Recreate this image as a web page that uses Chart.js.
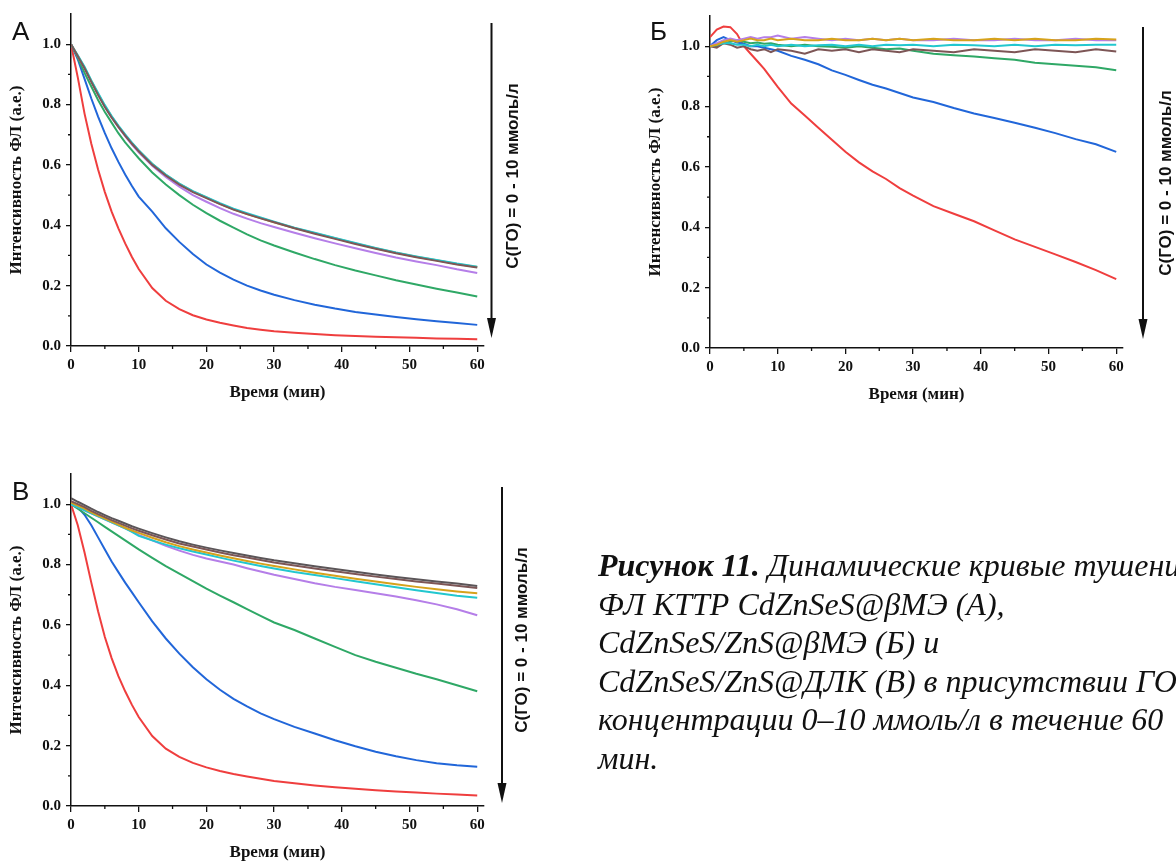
<!DOCTYPE html>
<html lang="ru">
<head>
<meta charset="utf-8">
<title>Рисунок 11</title>
<script src="https://cdn.jsdelivr.net/npm/chart.js@4.4.1/dist/chart.umd.min.js"></script>
<style>
  html, body { margin: 0; padding: 0; background: #fff; }
  body { width: 1176px; height: 863px; overflow: hidden; position: relative; }
  .panel { position: absolute; width: 500px; height: 410px; }
  .letter { position: absolute; font: 26px/26px "Liberation Sans", Arial, sans-serif; color: #111; }
  .conc { position: absolute; font: bold 17px "Liberation Sans", Arial, sans-serif; color: #111;
          white-space: nowrap; transform: translate(-50%, -50%) rotate(-90deg); }
  #caption { position: absolute; left: 598px; top: 546px; font: italic 32px/38.5px "Liberation Serif", "Times New Roman", serif;
             color: #111; white-space: nowrap; }
  #arrows { position: absolute; left: 0; top: 0; }
</style>
</head>
<body>

<div class="panel" style="left:0;top:0"><canvas id="chartA"></canvas></div>
<div class="panel" style="left:639px;top:2px"><canvas id="chartB"></canvas></div>
<div class="panel" style="left:0;top:460px"><canvas id="chartV"></canvas></div>

<div class="letter" style="left:12px;top:18px">А</div>
<div class="letter" style="left:650px;top:18px">Б</div>
<div class="letter" style="left:12px;top:478px">В</div>

<svg id="arrows" width="1176" height="863">
  <g stroke="#111" stroke-width="2" fill="#111">
    <line x1="491.5" y1="23" x2="491.5" y2="322"/>
    <polygon points="487,318 496,318 491.5,338" stroke="none"/>
    <line x1="1143" y1="27" x2="1143" y2="323"/>
    <polygon points="1138.5,319 1147.5,319 1143,339" stroke="none"/>
    <line x1="502" y1="487" x2="502" y2="787"/>
    <polygon points="497.5,783 506.5,783 502,803" stroke="none"/>
  </g>
</svg>

<div class="conc" style="left:513px;top:176px">С(ГО) = 0 - 10 ммоль/л</div>
<div class="conc" style="left:1166px;top:183px">С(ГО) = 0 - 10 ммоль/л</div>
<div class="conc" style="left:522px;top:640px">С(ГО) = 0 - 10 ммоль/л</div>

<div id="caption">
  <div><b>Рисунок 11.</b> Динамические кривые тушения</div>
  <div>ФЛ КТТР CdZnSeS@βМЭ (А),</div>
  <div>CdZnSeS/ZnS@βМЭ (Б) и</div>
  <div>CdZnSeS/ZnS@ДЛК (В) в присутствии ГО в</div>
  <div>концентрации 0–10 ммоль/л в течение 60</div>
  <div>мин.</div>
</div>

<script>
// время, мин (общая сетка для всех кривых)
const times = [0, 1, 2, 3, 4, 5, 6, 7, 8, 9, 10, 12, 14, 16, 18, 20, 22, 24, 26, 28, 30, 33, 36, 39, 42, 45, 48, 51, 54, 57, 60];

// деления осей
const xTicks = [0, 10, 20, 30, 40, 50, 60];
const xMinor = [5, 15, 25, 35, 45, 55];
const yMinor = [0.1, 0.3, 0.5, 0.7, 0.9];

// цвета кривых
const cRed = '#ef3e3e';
const cBlue = '#2166d9';
const cGreen = '#2fa866';
const cPurple = '#b57ee8';
const cGold = '#d6a21c';
const cCyan = '#22c7cf';
const cBrown = '#7d5656';
const cGray = '#5b5558';

// Панель А: CdZnSeS@βМЭ
const redA    = [1.0, 0.89, 0.77, 0.67, 0.585, 0.51, 0.445, 0.39, 0.34, 0.295, 0.255, 0.192, 0.15, 0.122, 0.102, 0.088, 0.077, 0.068, 0.06, 0.054, 0.049, 0.044, 0.04, 0.036, 0.033, 0.031, 0.029, 0.027, 0.025, 0.024, 0.022];
const blueA   = [1.0, 0.95, 0.885, 0.82, 0.76, 0.705, 0.655, 0.61, 0.568, 0.53, 0.495, 0.445, 0.39, 0.345, 0.305, 0.27, 0.243, 0.22, 0.2, 0.184, 0.17, 0.152, 0.137, 0.124, 0.113, 0.104, 0.096, 0.089, 0.082, 0.076, 0.07];
const greenA  = [1.0, 0.955, 0.905, 0.86, 0.815, 0.775, 0.74, 0.705, 0.675, 0.648, 0.622, 0.575, 0.535, 0.5, 0.468, 0.44, 0.415, 0.392, 0.37, 0.35, 0.333, 0.31, 0.288, 0.268, 0.25, 0.234, 0.218, 0.204, 0.19, 0.177, 0.164];
const purpleA = [1.0, 0.96, 0.92, 0.876, 0.833, 0.793, 0.757, 0.725, 0.695, 0.667, 0.642, 0.597, 0.56, 0.528, 0.5, 0.478, 0.457, 0.438, 0.422, 0.407, 0.394, 0.375, 0.357, 0.34, 0.324, 0.308, 0.293, 0.28, 0.268, 0.254, 0.242];
const goldA   = [1.0, 0.962, 0.922, 0.878, 0.835, 0.795, 0.76, 0.728, 0.699, 0.672, 0.647, 0.603, 0.567, 0.537, 0.512, 0.492, 0.471, 0.453, 0.437, 0.424, 0.41, 0.391, 0.374, 0.357, 0.34, 0.324, 0.309, 0.296, 0.284, 0.272, 0.262];
const cyanA   = [1.0, 0.963, 0.925, 0.88, 0.838, 0.798, 0.762, 0.73, 0.701, 0.674, 0.649, 0.604, 0.568, 0.538, 0.513, 0.493, 0.473, 0.455, 0.44, 0.426, 0.412, 0.392, 0.375, 0.358, 0.341, 0.325, 0.31, 0.297, 0.285, 0.273, 0.263];
const brownA  = [1.0, 0.96, 0.92, 0.875, 0.832, 0.792, 0.757, 0.726, 0.697, 0.67, 0.645, 0.6, 0.565, 0.535, 0.51, 0.49, 0.47, 0.452, 0.437, 0.423, 0.41, 0.39, 0.372, 0.355, 0.338, 0.322, 0.307, 0.294, 0.282, 0.27, 0.26];

// Панель Б: CdZnSeS/ZnS@βМЭ
const redB    = [1.03, 1.055, 1.065, 1.063, 1.04, 1.0, 0.975, 0.95, 0.925, 0.895, 0.865, 0.81, 0.77, 0.73, 0.69, 0.65, 0.615, 0.585, 0.56, 0.53, 0.505, 0.47, 0.445, 0.42, 0.39, 0.36, 0.335, 0.31, 0.285, 0.258, 0.228];
const blueB   = [1.0, 1.02, 1.03, 1.02, 1.012, 1.008, 1.0, 1.0, 0.995, 0.99, 0.985, 0.968, 0.955, 0.94, 0.92, 0.905, 0.888, 0.872, 0.86, 0.845, 0.83, 0.815, 0.795, 0.777, 0.762, 0.746, 0.73, 0.712, 0.692, 0.675, 0.65];
const greenB  = [1.0, 1.0, 1.01, 1.015, 1.02, 1.015, 1.01, 1.012, 1.008, 1.01, 1.005, 1.0, 1.005, 1.0, 0.998, 0.995, 1.0, 0.995, 0.99, 0.992, 0.985, 0.975, 0.97, 0.966, 0.96, 0.955, 0.945, 0.94, 0.935, 0.93, 0.92];
const purpleB = [1.0, 1.01, 1.02, 1.025, 1.02, 1.025, 1.03, 1.025, 1.03, 1.03, 1.035, 1.025, 1.03, 1.025, 1.02, 1.025, 1.02, 1.025, 1.02, 1.025, 1.02, 1.02, 1.025, 1.02, 1.02, 1.025, 1.02, 1.02, 1.025, 1.02, 1.02];
const goldB   = [1.0, 1.005, 1.015, 1.02, 1.015, 1.02, 1.025, 1.02, 1.02, 1.025, 1.02, 1.025, 1.02, 1.02, 1.025, 1.02, 1.02, 1.025, 1.02, 1.025, 1.02, 1.025, 1.02, 1.02, 1.025, 1.02, 1.025, 1.02, 1.02, 1.025, 1.022];
const cyanB   = [1.0, 1.005, 1.01, 1.01, 1.005, 1.005, 1.0, 1.005, 1.0, 1.005, 1.0, 1.005, 1.0, 1.003, 1.005, 1.0, 1.005, 1.0, 1.005, 1.003, 1.005, 1.0, 1.005, 1.003, 1.0, 1.005, 1.0, 1.005, 1.003, 1.005, 1.005];
const brownB  = [1.0, 0.995, 1.01, 1.005, 0.995, 1.0, 0.99, 0.985, 0.99, 0.98, 0.99, 0.985, 0.975, 0.99, 0.985, 0.99, 0.98, 0.99, 0.985, 0.98, 0.99, 0.985, 0.98, 0.99, 0.985, 0.98, 0.99, 0.985, 0.98, 0.99, 0.982];

// Панель В: CdZnSeS/ZnS@ДЛК
const redV    = [1.0, 0.93, 0.84, 0.74, 0.645, 0.56, 0.49, 0.43, 0.38, 0.335, 0.295, 0.232, 0.19, 0.163, 0.143, 0.128, 0.116, 0.106, 0.098, 0.09, 0.083, 0.075, 0.068, 0.062, 0.057, 0.052, 0.048, 0.045, 0.041, 0.038, 0.035];
const blueV   = [1.0, 0.99, 0.965, 0.93, 0.89, 0.85, 0.81, 0.775, 0.74, 0.708, 0.675, 0.612, 0.555, 0.505, 0.46, 0.42, 0.385, 0.355, 0.33, 0.307, 0.288, 0.262, 0.24, 0.218, 0.198, 0.18, 0.165, 0.152, 0.142, 0.135, 0.13];
const greenV  = [1.0, 0.985, 0.97, 0.955, 0.94, 0.925, 0.91, 0.895, 0.88, 0.865, 0.85, 0.822, 0.795, 0.77, 0.745, 0.72, 0.697, 0.675, 0.652, 0.63, 0.608, 0.583, 0.555, 0.527, 0.5, 0.478, 0.458, 0.438, 0.42, 0.4, 0.38];
const purpleV = [1.0, 0.99, 0.98, 0.97, 0.96, 0.95, 0.94, 0.93, 0.92, 0.91, 0.898, 0.88, 0.862, 0.846, 0.832, 0.82, 0.81, 0.8, 0.788, 0.777, 0.766, 0.752, 0.738, 0.726, 0.716, 0.705, 0.694, 0.682, 0.668, 0.652, 0.632];
const goldV   = [1.005, 0.995, 0.985, 0.973, 0.962, 0.952, 0.942, 0.932, 0.922, 0.913, 0.905, 0.889, 0.874, 0.861, 0.85, 0.84, 0.83, 0.821, 0.812, 0.803, 0.795, 0.784, 0.773, 0.763, 0.753, 0.744, 0.735, 0.726, 0.718, 0.711, 0.705];
const cyanV   = [1.0, 0.99, 0.98, 0.97, 0.96, 0.95, 0.94, 0.93, 0.92, 0.908, 0.895, 0.88, 0.866, 0.854, 0.843, 0.833, 0.823, 0.813, 0.804, 0.795, 0.787, 0.775, 0.765, 0.755, 0.745, 0.735, 0.725, 0.715, 0.706, 0.697, 0.69];
const brownV  = [1.01, 1.0, 0.99, 0.978, 0.967, 0.957, 0.947, 0.938, 0.929, 0.92, 0.912, 0.897, 0.883, 0.87, 0.86, 0.85, 0.84, 0.831, 0.823, 0.815, 0.807, 0.797, 0.787, 0.778, 0.769, 0.76, 0.752, 0.744, 0.737, 0.73, 0.722];
const grayV   = [1.02, 1.008, 0.997, 0.985, 0.974, 0.964, 0.954, 0.945, 0.936, 0.927, 0.919, 0.904, 0.89, 0.877, 0.866, 0.856, 0.847, 0.838, 0.83, 0.822, 0.814, 0.804, 0.794, 0.785, 0.776, 0.767, 0.759, 0.751, 0.744, 0.737, 0.729];

const tickFont = { family: '"Liberation Serif", "Times New Roman", serif', size: 15, weight: 'bold' };
const titleFont = { family: '"Liberation Serif", "Times New Roman", serif', size: 17, weight: 'bold' };

// короткие промежуточные деления, как в Origin
const minorTicks = {
    id: 'minorTicks',
    afterDraw(chart) {
        const { ctx, scales: { x, y } } = chart;
        ctx.save();
        ctx.strokeStyle = '#111';
        ctx.lineWidth = 1.3;
        ctx.beginPath();
        xMinor.forEach(v => {
            const px = x.getPixelForValue(v);
            ctx.moveTo(px, y.bottom);
            ctx.lineTo(px, y.bottom + 3);
        });
        yMinor.forEach(v => {
            const py = y.getPixelForValue(v);
            ctx.moveTo(x.left - 3, py);
            ctx.lineTo(x.left, py);
        });
        ctx.stroke();
        ctx.restore();
    }
};

function makeDatasets(series) {
    // первый набор рисуется поверх, поэтому переворачиваем порядок
    return series.slice().reverse().map(([color, values]) => ({
        data: times.map((t, i) => ({ x: t, y: values[i] })),
        borderColor: color,
        borderWidth: 2,
        pointRadius: 0,
        tension: 0,
        fill: false
    }));
}

function drawPanel(canvasId, series) {
    return new Chart(document.getElementById(canvasId), {
        type: 'line',
        data: { datasets: makeDatasets(series) },
        plugins: [minorTicks],
        options: {
            responsive: true,
            maintainAspectRatio: false,
            animation: false,
            layout: { padding: { left: 0, right: 16, top: 14, bottom: 0 } },
            plugins: { legend: { display: false }, tooltip: { enabled: false } },
            scales: {
                x: {
                    type: 'linear',
                    min: 0,
                    max: 61,
                    afterFit: s => { s.height = 64; },
                    afterBuildTicks: s => { s.ticks = xTicks.map(v => ({ value: v })); },
                    ticks: { font: tickFont, color: '#111', padding: 4, maxRotation: 0 },
                    grid: { drawOnChartArea: false, tickLength: 6, color: '#111', lineWidth: 1.3 },
                    border: { color: '#111', width: 1.5 },
                    title: { display: true, text: 'Время (мин)', font: titleFont, color: '#111', padding: { top: 0, bottom: 7 } }
                },
                y: {
                    min: 0,
                    max: 1.1,
                    afterFit: s => { s.width = 71; },
                    ticks: { stepSize: 0.2, includeBounds: false, font: tickFont, color: '#111', padding: 5,
                             callback: v => v.toFixed(1) },
                    grid: { drawOnChartArea: false, tickLength: 5, color: '#111', lineWidth: 1.3 },
                    border: { color: '#111', width: 1.5 },
                    title: { display: true, text: 'Интенсивность ФЛ (а.е.)', font: titleFont, color: '#111', padding: { top: 6, bottom: 0 } }
                }
            }
        }
    });
}

drawPanel('chartA', [
    [cRed, redA], [cBlue, blueA], [cGreen, greenA], [cPurple, purpleA],
    [cGold, goldA], [cCyan, cyanA], [cBrown, brownA]
]);

drawPanel('chartB', [
    [cRed, redB], [cBlue, blueB], [cGreen, greenB], [cBrown, brownB],
    [cCyan, cyanB], [cPurple, purpleB], [cGold, goldB]
]);

drawPanel('chartV', [
    [cRed, redV], [cBlue, blueV], [cGreen, greenV], [cPurple, purpleV],
    [cCyan, cyanV], [cGold, goldV], [cBrown, brownV], [cGray, grayV]
]);
</script>
</body>
</html>
